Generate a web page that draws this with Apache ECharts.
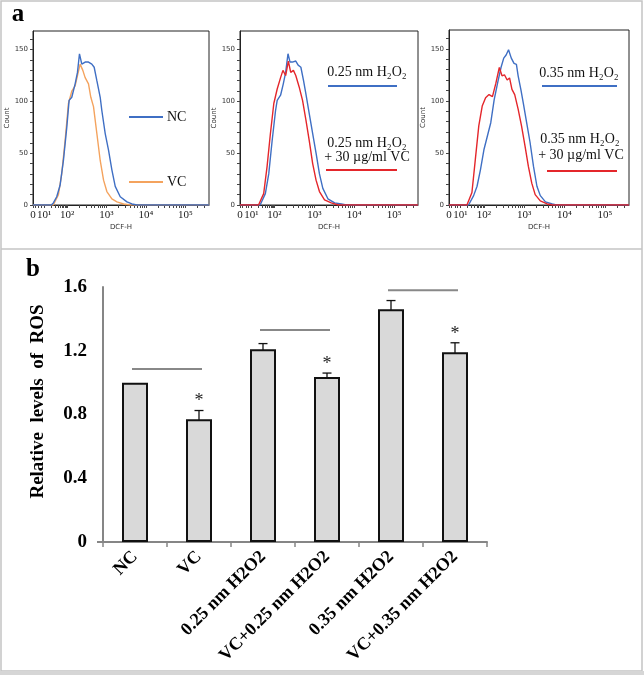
<!DOCTYPE html>
<html><head><meta charset="utf-8">
<script src="https://cdn.jsdelivr.net/npm/echarts@6/dist/echarts.min.js"></script>
<style>html,body{margin:0;padding:0;background:#fff}#c{width:644px;height:675px}</style>
</head><body><div id="c"></div>
<script>
// ---------- Panel a: flow-cytometry histograms (x = display decade position, y = count) ----------
const histTickPos = [1.135, 1.42, 2, 3, 4, 5];
const histTickLabels = ['0', '10¹', '10²', '10³', '10⁴', '10⁵'];
const countTickLabels = [0, 50, 100, 150];
const countMinorTicks = [0,10,20,30,40,50,60,70,80,90,100,110,120,130,140,150,160];

const h1NC = [[1.135,0],[1.60,0],[1.652,2],[1.737,8],[1.822,19],[1.907,43],[1.992,75],[2.051,101],[2.119,104],[2.204,117],[2.263,128],[2.314,146],[2.373,136],[2.458,138],[2.543,138],[2.627,136],[2.687,133],[2.755,120],[2.840,104],[2.882,91],[2.967,69],[3.051,53],[3.136,34],[3.221,18],[3.348,8],[3.518,3],[3.645,1],[3.773,0],[5.6,0]];
const h1VC = [[1.135,0],[1.65,0],[1.695,1],[1.780,10],[1.864,30],[1.949,62],[2.034,98],[2.119,110],[2.204,115],[2.263,125],[2.331,136],[2.399,130],[2.458,123],[2.543,117],[2.602,104],[2.670,95],[2.755,69],[2.840,43],[2.925,24],[3.009,13],[3.136,6],[3.264,3],[3.434,1],[3.6,0],[5.6,0]];
const h2H2O2 = [[1.135,0],[1.64,0],[1.686,1],[1.771,11],[1.856,30],[1.941,62],[2.026,91],[2.068,101],[2.153,106],[2.221,117],[2.280,128],[2.339,146],[2.390,138],[2.450,138],[2.534,139],[2.594,135],[2.662,133],[2.729,120],[2.789,107],[2.873,88],[2.958,69],[3.043,50],[3.128,30],[3.213,16],[3.340,6],[3.509,2],[3.679,1],[3.8,0],[5.6,0]];
const h2H2O2VC = [[1.135,0],[1.60,0],[1.644,1],[1.729,11],[1.814,37],[1.898,69],[1.983,98],[2.068,112],[2.153,123],[2.212,130],[2.280,125],[2.348,139],[2.407,128],[2.475,130],[2.534,125],[2.619,114],[2.704,101],[2.789,82],[2.873,62],[2.958,40],[3.043,24],[3.128,13],[3.255,5],[3.424,2],[3.6,0],[5.6,0]];
const h3H2O2 = [[1.135,0],[1.62,0],[1.662,1],[1.746,9],[1.831,18],[1.916,34],[2.001,53],[2.086,66],[2.171,79],[2.255,101],[2.340,117],[2.425,132],[2.493,141],[2.552,144],[2.612,149],[2.680,141],[2.748,136],[2.807,135],[2.850,124],[2.917,111],[2.977,98],[3.061,79],[3.146,60],[3.231,37],[3.316,18],[3.400,9],[3.528,3],[3.697,1],[3.8,0],[5.6,0]];
const h3H2O2VC = [[1.135,0],[1.58,0],[1.619,1],[1.704,12],[1.789,44],[1.874,76],[1.959,95],[2.043,103],[2.128,106],[2.213,104],[2.298,117],[2.383,132],[2.450,124],[2.510,125],[2.578,120],[2.637,122],[2.697,111],[2.765,106],[2.850,92],[2.934,76],[3.019,57],[3.104,37],[3.188,21],[3.273,10],[3.400,4],[3.570,1],[3.7,0],[5.6,0]];

// ---------- Panel b: bar chart ----------
const barCategories = ['NC', 'VC', '0.25 nm H2O2', 'VC+0.25 nm H2O2', '0.35 nm H2O2', 'VC+0.35 nm H2O2'];
const barValues = [1.0, 0.77, 1.21, 1.035, 1.46, 1.19];
const barErrors = [0, 0.055, 0.035, 0.025, 0.055, 0.06];
const sigMarks = ['', '*', '', '*', '', '*'];
const sigLines = [[0, 1, 1.086], [2, 3, 1.33], [4, 5, 1.58]];

const BLUE = '#3f6fc4', ORANGE = '#f4a35e', RED = '#e4262b';
const SERIF = '"Liberation Serif","Times New Roman",serif';
const SANS = '"DejaVu Sans","Liberation Sans",sans-serif';

function xMinorTicks() {
  const t = [];
  for (let n = 2; n <= 5; n++) for (let k = 1; k <= 9; k++) { const v = n + Math.log10(k); if (v < 5.6) t.push(v); }
  for (let k = 1; k <= 9; k++) t.push(1.42 + 0.58 * Math.log10(k));
  t.push(1.135, 1.2, 1.28, 1.35);
  return t;
}
const xTicks = xMinorTicks();

const histGrids = [
  {left: 33, top: 31, width: 176, height: 174},
  {left: 240, top: 31, width: 178, height: 174},
  {left: 449, top: 30, width: 180, height: 175}
];

const grids = [], xAxes = [], yAxes = [], series = [];
histGrids.forEach((g, i) => {
  grids.push(Object.assign({show: true, borderColor: '#222', borderWidth: 1, backgroundColor: 'transparent'}, g));
  xAxes.push({
    type: 'value', gridIndex: i, min: 1.135, max: 5.6,
    name: 'DCF-H', nameLocation: 'middle', nameGap: 19,
    nameTextStyle: {fontFamily: SANS, fontSize: 7, color: '#333'},
    axisLine: {show: true, lineStyle: {color: '#222', width: 1}},
    axisTick: {show: true, inside: false, length: 3, customValues: xTicks, lineStyle: {color: '#444', width: 1}},
    axisLabel: {show: true, customValues: histTickPos, margin: 5, fontFamily: SERIF, fontSize: 11, color: '#222',
      formatter: v => { let j = 0, d = 1e9; histTickPos.forEach((p, k) => { if (Math.abs(p - v) < d) { d = Math.abs(p - v); j = k; } }); return histTickLabels[j]; }},
    splitLine: {show: false}
  });
  yAxes.push({
    type: 'value', gridIndex: i, min: 0, max: 168,
    name: 'Count', nameLocation: 'middle', nameGap: 17, nameRotate: 90,
    nameTextStyle: {fontFamily: SANS, fontSize: 7, color: '#333'},
    axisLine: {show: true, lineStyle: {color: '#222', width: 1}},
    axisTick: {show: true, length: 3, customValues: countMinorTicks, lineStyle: {color: '#444', width: 1}},
    axisLabel: {show: true, customValues: countTickLabels, margin: 5, fontFamily: SANS, fontSize: 7, color: '#333'},
    splitLine: {show: false}
  });
});

const histSeries = [
  [0, h1VC, ORANGE], [0, h1NC, BLUE],
  [1, h2H2O2, BLUE], [1, h2H2O2VC, RED],
  [2, h3H2O2, BLUE], [2, h3H2O2VC, RED]
];
histSeries.forEach(([gi, data, color]) => {
  series.push({type: 'line', xAxisIndex: gi, yAxisIndex: gi, data: data, showSymbol: false, symbol: 'none',
    lineStyle: {color: color, width: 1.4}, silent: true, animation: false});
});

// bar chart grid
grids.push({left: 103, top: 287, width: 384, height: 255});
xAxes.push({
  type: 'category', gridIndex: 3, data: barCategories,
  axisLine: {show: true, lineStyle: {color: '#868686', width: 2}},
  axisTick: {show: true, length: 5, lineStyle: {color: '#868686', width: 1.5}},
  axisLabel: {rotate: 45, interval: 0, margin: 12, fontFamily: SERIF, fontWeight: 'bold', fontSize: 18, color: '#000'}
});
yAxes.push({
  type: 'value', gridIndex: 3, min: 0, max: 1.6, interval: 0.4,
  name: 'Relative  levels  of  ROS', nameLocation: 'middle', nameGap: 55, nameRotate: 90,
  nameTextStyle: {fontFamily: SERIF, fontWeight: 'bold', fontSize: 19, color: '#000', padding: [0, 0, 0, 26]},
  axisLine: {show: true, lineStyle: {color: '#868686', width: 2}},
  axisTick: {show: false},
  axisLabel: {margin: 16, fontFamily: SERIF, fontWeight: 'bold', fontSize: 19, color: '#000',
    formatter: v => (v === 0 ? '0' : v.toFixed(1))},
  splitLine: {show: false}
});
series.push({
  type: 'bar', xAxisIndex: 3, yAxisIndex: 3, data: barValues, barWidth: 26,
  itemStyle: {color: '#d9d9d9', borderColor: '#111', borderWidth: 2}, animation: false
});
series.push({
  type: 'custom', xAxisIndex: 3, yAxisIndex: 3, animation: false,
  data: barValues.map((v, i) => [i, v, barErrors[i]]),
  encode: {x: 0, y: 1},
  renderItem: (params, api) => {
    const i = api.value(0), v = api.value(1), e = api.value(2);
    const top = api.coord([i, v + e]), bot = api.coord([i, v - e]);
    const hw = 4.5, st = {stroke: '#111', lineWidth: 1.3};
    const ch = [];
    if (e > 0) {
      ch.push({type: 'line', shape: {x1: top[0], y1: top[1], x2: bot[0], y2: bot[1]}, style: st});
      ch.push({type: 'line', shape: {x1: top[0] - hw, y1: top[1], x2: top[0] + hw, y2: top[1]}, style: st});
      ch.push({type: 'line', shape: {x1: bot[0] - hw, y1: bot[1], x2: bot[0] + hw, y2: bot[1]}, style: st});
    }
    const m = sigMarks[params.dataIndex];
    if (m) ch.push({type: 'text', style: {text: m, x: top[0], y: top[1] - 9, align: 'center', verticalAlign: 'middle',
      textAlign: 'center', textVerticalAlign: 'middle', fontFamily: SERIF, fontSize: 18, fill: '#222'}});
    return {type: 'group', children: ch};
  }
});
series.push({
  type: 'custom', xAxisIndex: 3, yAxisIndex: 3, animation: false,
  data: sigLines, encode: {x: 0, y: 2},
  renderItem: (params, api) => {
    const a = api.coord([api.value(0), api.value(2)]), b = api.coord([api.value(1), api.value(2)]);
    return {type: 'line', shape: {x1: a[0] - 3, y1: a[1], x2: b[0] + 3, y2: b[1]}, style: {stroke: '#888', lineWidth: 2}};
  }
});

function txt(text, x, y, opts) {
  return {type: 'text', silent: true, style: Object.assign({text: text, x: x, y: y, fontFamily: SERIF, fontSize: 14, fill: '#111',
    align: 'center', verticalAlign: 'middle', textAlign: 'center', textVerticalAlign: 'middle'}, opts || {})};
}
function ln(x1, y1, x2, y2, color, w) {
  return {type: 'line', silent: true, shape: {x1, y1, x2, y2}, style: {stroke: color, lineWidth: w || 2}};
}

const graphics = [
  {type: 'rect', silent: true, shape: {x: 1, y: 1, width: 641, height: 670}, style: {fill: 'none', stroke: '#c4c4c4', lineWidth: 1.5}},
  ln(1, 249, 642, 249, '#c4c4c4', 1.5),
  {type: 'rect', silent: true, shape: {x: 0, y: 671, width: 644, height: 4}, style: {fill: '#d6d6d6'}},
  ln(97, 542, 103, 542, '#868686', 2),
  txt('a', 18, 15, {fontWeight: 'bold', fontSize: 25, fill: '#000'}),
  txt('b', 33, 270, {fontWeight: 'bold', fontSize: 25, fill: '#000'}),
  // legend panel 1
  ln(129, 117, 163, 117, BLUE), txt('NC', 167, 117, {align: 'left', textAlign: 'left'}),
  ln(129, 182, 163, 182, ORANGE), txt('VC', 167, 182, {align: 'left', textAlign: 'left'}),
  // legend panel 2
  txt('0.25 nm H₂O₂', 367, 72), ln(328, 86, 397, 86, BLUE),
  txt('0.25 nm H₂O₂', 367, 143), txt('+ 30 µg/ml VC', 367, 157), ln(326, 170, 397, 170, RED),
  // legend panel 3
  txt('0.35 nm H₂O₂', 579, 73), ln(542, 86, 617, 86, BLUE),
  txt('0.35 nm H₂O₂', 580, 139), txt('+ 30 µg/ml VC', 581, 155), ln(547, 171, 617, 171, RED)
];

const chart = echarts.init(document.getElementById('c'), null, {renderer: 'canvas'});
chart.setOption({
  animation: false,
  backgroundColor: '#fff',
  grid: grids, xAxis: xAxes, yAxis: yAxes, series: series,
  graphic: graphics
});
</script></body></html>
